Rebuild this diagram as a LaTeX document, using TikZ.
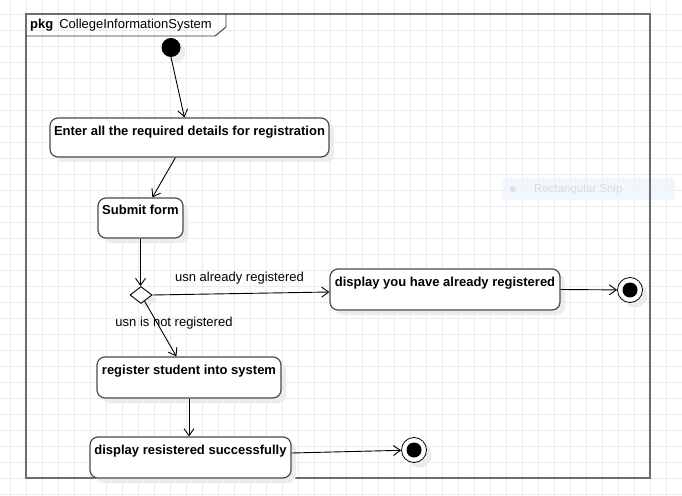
\documentclass[tikz,border=0pt]{standalone}
\usepackage{fontspec}
\setmainfont{Liberation Sans}
\usetikzlibrary{arrows.meta,shapes.geometric,shadows,calc}
\definecolor{gridc}{HTML}{EBEBEB}
\definecolor{framec}{HTML}{6E6E6E}
\definecolor{boxc}{HTML}{4A4A4A}
\definecolor{shadc}{HTML}{ECECEC}
\definecolor{snipc}{HTML}{EEF5FD}
\definecolor{sniptext}{HTML}{DCDCDC}
\begin{document}
\begin{tikzpicture}[x=1bp,y=-1bp,
  txt/.style={font=\fontsize{13bp}{15bp}\selectfont},
  btxt/.style={font=\fontsize{13bp}{15bp}\selectfont\bfseries},
  myshadow/.style={drop shadow={shadow xshift=5bp,shadow yshift=-5bp,fill=shadc,opacity=1}},
  act/.style={rectangle,draw=boxc,line width=1.2bp,rounded corners=8bp,fill=white,inner sep=0,myshadow},
  acttext/.style={btxt,anchor=base,inner sep=0},
  dec/.style={diamond,draw=black,line width=0.9bp,fill=white,inner sep=0,minimum width=22bp,minimum height=17bp,myshadow},
  initial/.style={circle,fill=black,inner sep=0,minimum size=19bp,myshadow},
  final/.style={circle,draw=black,line width=0.8bp,fill=white,inner sep=0,minimum size=25bp,myshadow,
     path picture={\fill[black] (path picture bounding box.center) circle (7.5bp);}},
  flow/.style={draw=black,line width=0.9bp,-{Straight Barb[length=7bp,width=10bp]}},
  elabel/.style={txt,inner sep=0,anchor=base}
]
\useasboundingbox (0,0) rectangle (682,496);
\fill[white] (0,0) rectangle (682,496);
% grid
\foreach \i in {0,...,42} {\draw[gridc,line width=0.9bp] ({10.7+16*\i},0) -- ({10.7+16*\i},496);}
\foreach \j in {0,...,30} {\draw[gridc,line width=0.9bp] (0,{14.7+16*\j}) -- (682,{14.7+16*\j});}
% rectangular snip artefact
\fill[snipc,opacity=0.8] (502,178) rectangle (675,200);
\node[circle,fill=red!6!sniptext,opacity=0.6,inner sep=0,minimum size=6bp] (snipdot) at (513,189) {};
\node[anchor=base west,inner sep=0,text=sniptext,font=\fontsize{11.5bp}{13bp}\selectfont] (sniptxt) at (534,193) {Rectangular Snip};
% frame
\draw[framec,line width=2bp] (25.7,14) rectangle (650,477.7);
\draw[black!80,line width=0.9bp] (25.7,36) -- (215,36) -- (226,27) -- (226,14);
\node[anchor=base west,inner sep=0,txt] (title) at (30,29) {\textbf{pkg}\hspace{6bp}CollegeInformationSystem};
% nodes
\node[initial] (init) at (171,47.5) {};
\node[act,minimum width=279bp,minimum height=39bp] (b1) at (189.5,137.5) {};
\node[acttext] (t1) at ($(b1.north)+(0,18)$) {Enter all the required details for registration};
\node[act,minimum width=85bp,minimum height=40bp] (b2) at (140.5,218) {};
\node[acttext] (t2) at ($(b2.north)+(0,17.5)$) {Submit form};
\node[dec] (dia) at (141,295) {};
\node[act,minimum width=230bp,minimum height=41bp] (b5) at (445,289.5) {};
\node[acttext] (t5) at ($(b5.north)+(0,18.5)$) {display you have already registered};
\node[act,minimum width=184bp,minimum height=41bp] (b3) at (189,377.5) {};
\node[acttext] (t3) at ($(b3.north)+(0,18)$) {register student into system};
\node[act,minimum width=201bp,minimum height=41bp] (b4) at (190.5,457.5) {};
\node[acttext] (t4) at ($(b4.north)+(0,18)$) {display resistered successfully};
\node[final] (f1) at (630,290) {};
\node[final] (f2) at (414,450) {};
% flows
\draw[flow] (init.south) -- ($(b1.north west)+(135,0)$);
\draw[flow] ($(b1.south west)+(126,0)$) -- ($(b2.north west)+(55,0)$);
\draw[flow] (b2.south) -- (b2.south |- dia.north);
\draw[flow] (dia.east) -- ($(b5.west)+(0,2.5)$);
\draw[flow] (dia) -- ($(b3.north west)+(80,0)$);
\draw[flow] (b3.south) -- (b3.south |- b4.north);
\draw[flow] ($(b4.east)+(0,-4.5)$) -- (f2);
\draw[flow] (b5.east) -- (f1);
% flow labels
\node[elabel] (l1) at (239.5,281.5) {usn already registered};
\node[elabel] (l2) at (174,326.5) {usn is not registered};
\end{tikzpicture}
\end{document}
